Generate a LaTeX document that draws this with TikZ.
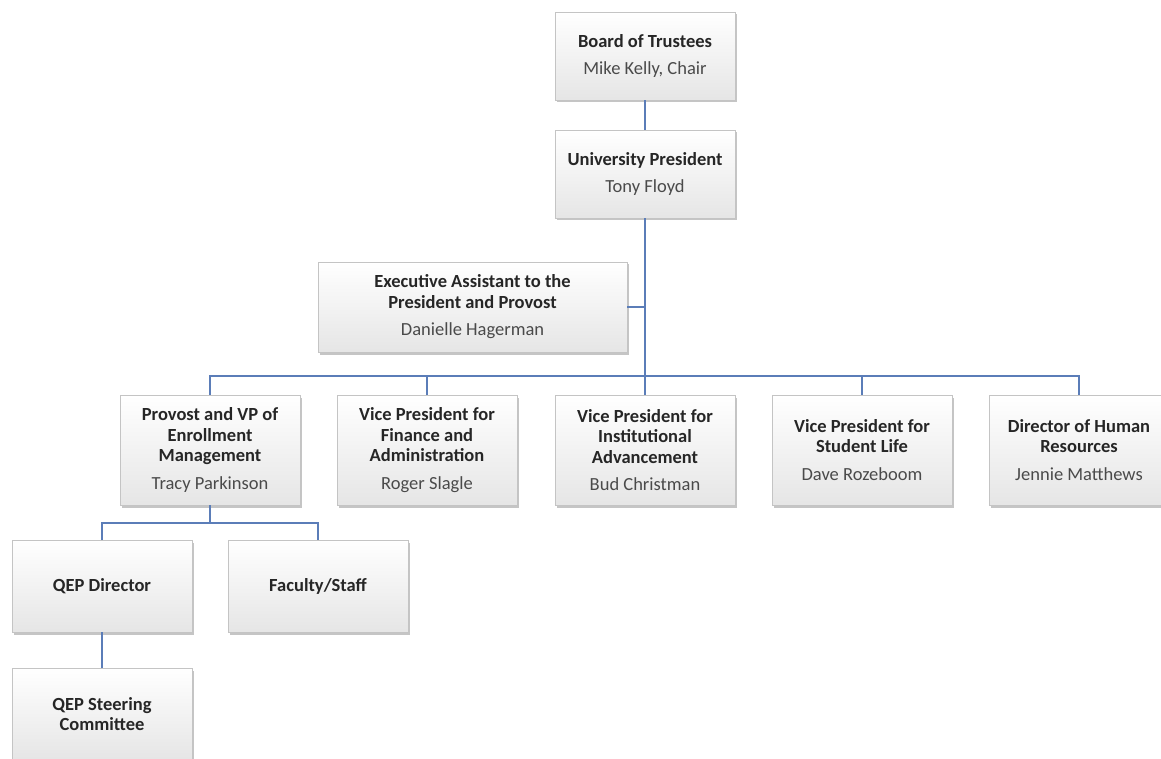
\documentclass[tikz,border=0pt]{standalone}
\usepackage{fontspec}
\setmainfont{Carlito}
\usetikzlibrary{shadows}
\definecolor{linkblue}{HTML}{5B7DB8}
\definecolor{boxedge}{HTML}{C4C4C4}
\definecolor{titlegray}{HTML}{262626}
\definecolor{namegray}{HTML}{4A4A4A}
\tikzset{
  orgbox/.style={draw=boxedge, line width=0.8pt, top color=white, bottom color=black!10,
    drop shadow={opacity=0.45, shadow xshift=1.5pt, shadow yshift=-2.5pt},
    align=center, text=titlegray, minimum width=180pt, inner sep=3pt,
    font=\fontsize{18.5}{20.5}\selectfont},
  link/.style={draw=linkblue, line width=1.4pt}
}
\newcommand{\who}[1]{\\[7pt]{\mdseries\color{namegray}#1}}
\begin{document}
\begin{tikzpicture}[x=1pt,y=-1pt]
\clip (0,0) rectangle (1161,759);
\fill[white] (0,0) rectangle (1161,759);
\node[orgbox, minimum height=88pt] (board) at (645,56) {\bfseries Board of Trustees\who{Mike Kelly, Chair}};
\node[orgbox, minimum height=88pt] (pres) at (645,174) {\bfseries University President\who{Tony Floyd}};
\node[orgbox, minimum height=90pt, minimum width=309pt] (exec) at (472.5,307) {\bfseries Executive Assistant to the\\\bfseries President and Provost\who{Danielle Hagerman}};
\node[orgbox, minimum height=110pt] (prov) at (210,450) {\bfseries Provost and VP of\\\bfseries Enrollment\\\bfseries Management\who{Tracy Parkinson}};
\node[orgbox, minimum height=110pt] (fin) at (427,450) {\bfseries Vice President for\\\bfseries Finance and\\\bfseries Administration\who{Roger Slagle}};
\node[orgbox, minimum height=110pt] (inst) at (645,450) {\bfseries Vice President for\\\bfseries Institutional\\\bfseries Advancement\who{Bud Christman}};
\node[orgbox, minimum height=110pt] (stud) at (862,450) {\bfseries Vice President for\\\bfseries Student Life\who{Dave Rozeboom}};
\node[orgbox, minimum height=110pt] (hr) at (1079,450) {\bfseries Director of Human\\\bfseries Resources\who{Jennie Matthews}};
\node[orgbox, minimum height=92pt] (qep) at (102,586) {\bfseries QEP Director};
\node[orgbox, minimum height=92pt] (fac) at (318,586) {\bfseries Faculty/Staff};
\node[orgbox, minimum height=92pt] (steer) at (102,714) {\bfseries QEP Steering\\\bfseries Committee};
\coordinate (bus) at (645,376);
\coordinate (subbus) at (210,523);
\draw[link] (board.south) -- (pres.north);
\draw[link] (pres.south) -- (bus);
\draw[link] (exec.east) -- (exec.east -| pres.south);
\foreach \n in {prov,fin,inst,stud,hr} \draw[link] (bus) -| (\n.north);
\draw[link] (prov.south) -- (subbus);
\foreach \n in {qep,fac} \draw[link] (subbus) -| (\n.north);
\draw[link] (qep.south) -- (steer.north);
\end{tikzpicture}
\end{document}
